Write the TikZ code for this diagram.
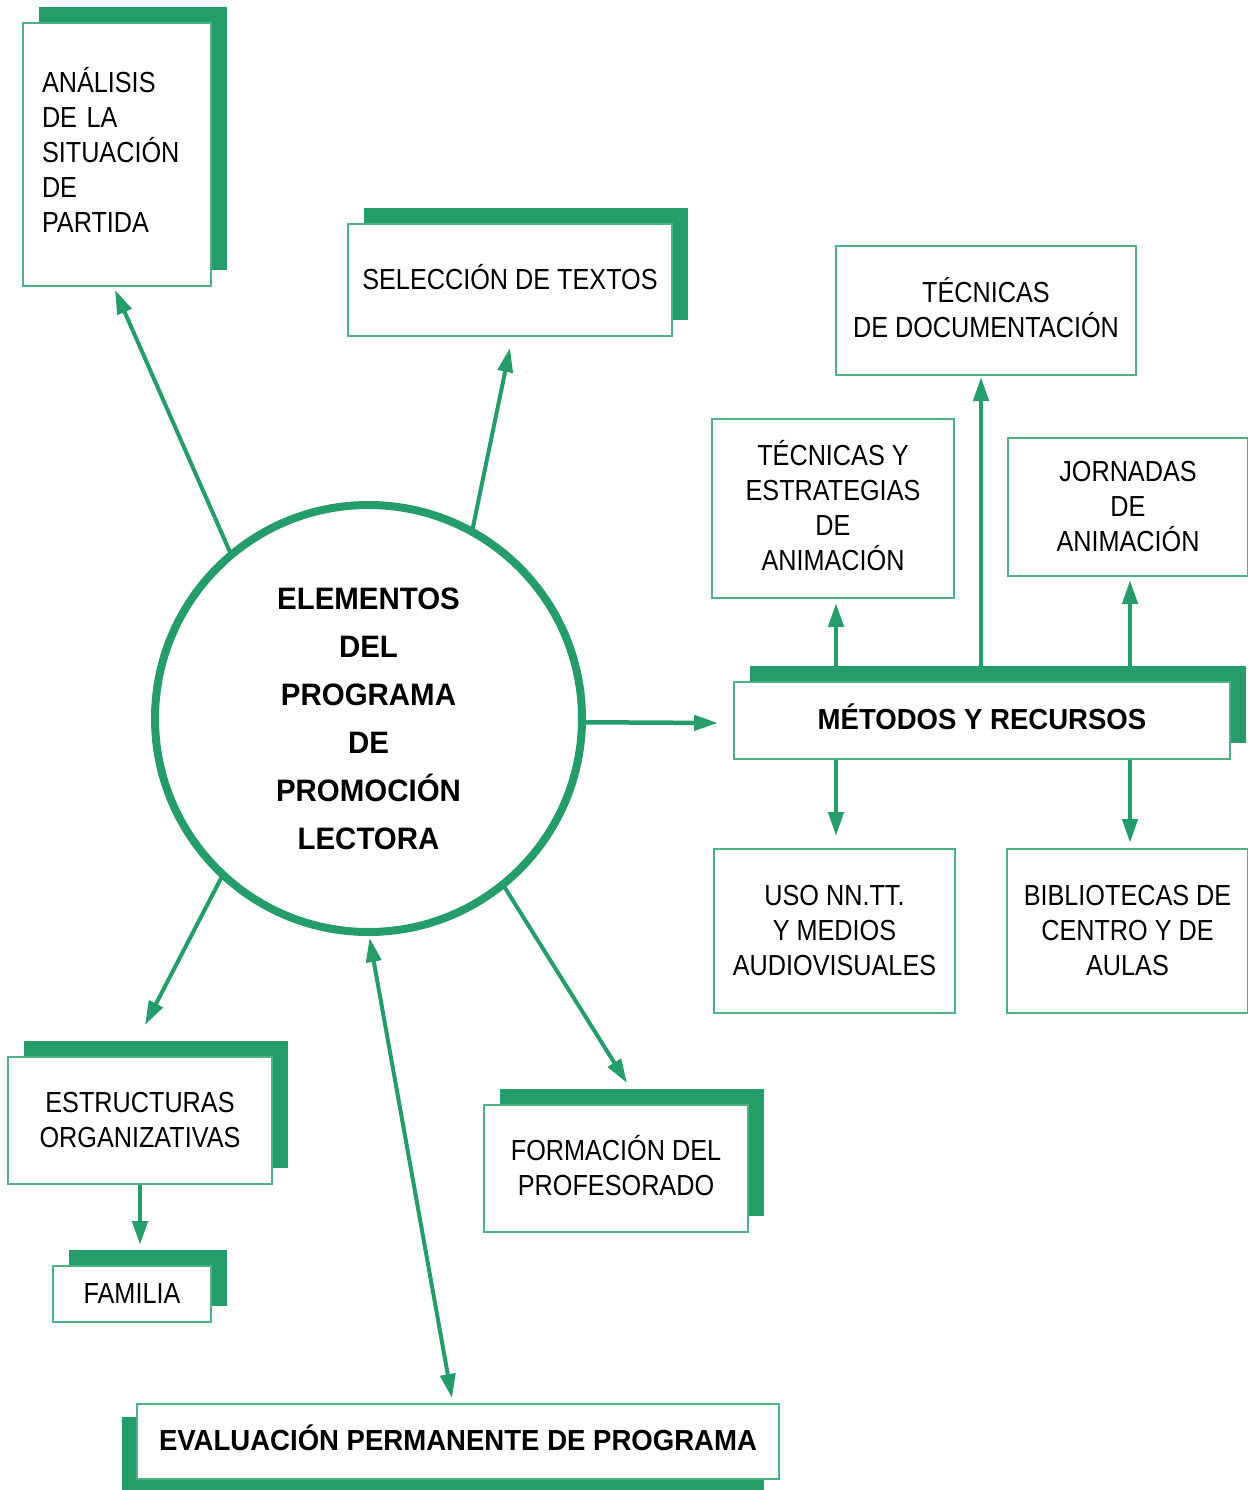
\documentclass[tikz,border=0pt]{standalone}
\usepackage{fontspec}
\setmainfont{Liberation Sans}[FakeStretch=0.87,BoldFeatures={FakeStretch=0.95}]
\usetikzlibrary{arrows.meta,shadows}
\definecolor{gfill}{RGB}{36,157,106}
\definecolor{gline}{RGB}{78,178,134}
\pgfdeclarelayer{bg}
\pgfsetlayers{bg,main}
\begin{document}
\begin{tikzpicture}[x=1pt,y=-1pt,
  box/.style={draw=gline,line width=1.3pt,fill=white,inner sep=0pt,align=center,
    font=\fontsize{29}{35}\selectfont},
  acc/.style={execute at end node={\rule[-7pt]{0pt}{7pt}}},
  sbox/.style={box,general shadow={fill=gfill,opacity=1,shadow xshift=16pt,shadow yshift=16pt}},
  bbox/.style={font=\bfseries\fontsize{29}{35}\selectfont},
  arr/.style={draw=gfill,line width=4.5pt,-{Triangle[length=24pt,width=15pt]}},
  rarr/.style={draw=gfill,line width=4pt,-{Triangle[length=24pt,width=15pt]}},
  darr/.style={draw=gfill,line width=4pt,{Triangle[length=24pt,width=15pt]}-{Triangle[length=24pt,width=15pt]}},
]
\useasboundingbox (0,0) rectangle (1247,1490);

% boxes
\node[sbox,minimum width=188pt,minimum height=263pt,text width=150pt,align=left,
  execute at end node={\rule[-10pt]{0pt}{10pt}}] (ana) at (117,154.5)
  {ANÁLISIS\\DE LA\\SITUACIÓN\\DE\\PARTIDA};
\node[sbox,acc,minimum width=324pt,minimum height=112pt] (sel) at (510,280) {SELECCIÓN DE TEXTOS};
\node[box,acc,minimum width=300pt,minimum height=129pt] (doc) at (986,310.5) {TÉCNICAS\\DE DOCUMENTACIÓN};
\node[box,acc,minimum width=242pt,minimum height=179pt] (tea) at (833,508.5) {TÉCNICAS Y\\ESTRATEGIAS\\DE\\ANIMACIÓN};
\node[box,minimum width=240pt,minimum height=138pt] (jor) at (1128,507) {JORNADAS\\DE\\ANIMACIÓN};
\node[sbox,acc,bbox,minimum width=496pt,minimum height=77pt] (mr) at (982,720.5) {MÉTODOS Y RECURSOS};
\node[box,minimum width=241pt,minimum height=164pt] (uso) at (834.5,931) {USO NN.TT.\\Y MEDIOS\\AUDIOVISUALES};
\node[box,minimum width=241pt,minimum height=164pt] (bib) at (1127.5,931) {BIBLIOTECAS DE\\CENTRO Y DE\\AULAS};
\node[sbox,minimum width=264pt,minimum height=127pt] (est) at (140,1120.5) {ESTRUCTURAS\\ORGANIZATIVAS};
\node[sbox,minimum width=158pt,minimum height=56pt] (fam) at (132,1294) {FAMILIA};
\node[sbox,acc,minimum width=264pt,minimum height=127pt] (for) at (616,1168.5) {FORMACIÓN DEL\\PROFESORADO};
\node[box,acc,bbox,general shadow={fill=gfill,opacity=1,shadow xshift=-15pt,shadow yshift=-13pt},
  minimum width=642pt,minimum height=75pt] (ev) at (458,1441.5) {EVALUACIÓN PERMANENTE DE PROGRAMA};

% central circle
\node[circle,draw=gfill,fill=white,line width=8pt,minimum size=427pt,inner sep=0pt,outer sep=0pt,align=center,
  font=\bfseries\fontsize{31}{48}\selectfont] (c) at (368.5,718.5)
  {ELEMENTOS\\DEL\\PROGRAMA\\DE\\PROMOCIÓN\\LECTORA};

% arrow tips
\coordinate (tAna) at (115,290);
\coordinate (tSel) at (510,348);
\coordinate (tMr) at (718,723);
\coordinate (tEst) at (145,1025);
\coordinate (tFor) at (627,1083);
\coordinate (tEv) at (452,1398);
\coordinate (t1) at (836,603);
\coordinate (t2) at (981,377);
\coordinate (t3) at (1130,580);
\coordinate (t4) at (836,836);
\coordinate (t5) at (1130,843);
\coordinate (t6) at (140,1245);

\begin{pgfonlayer}{bg}
\draw[rarr] (c.130) -- (tAna);
\draw[rarr] (c.61) -- (tSel);
\draw[arr] (c.-1) -- (tMr);
\draw[rarr] (c.227.4) -- (tEst);
\draw[rarr] (c.-51.2) -- (tFor);
\draw[darr,shorten <=6pt] (c.south) -- (tEv);
\draw[arr] (mr.center -| t1) -- (t1);
\draw[arr] (mr.center -| t2) -- (t2);
\draw[arr] (mr.center -| t3) -- (t3);
\draw[arr] (mr.south -| t4) -- (t4);
\draw[arr] (mr.south -| t5) -- (t5);
\draw[arr] (est.south) -- (t6);
\end{pgfonlayer}
\end{tikzpicture}
\end{document}
